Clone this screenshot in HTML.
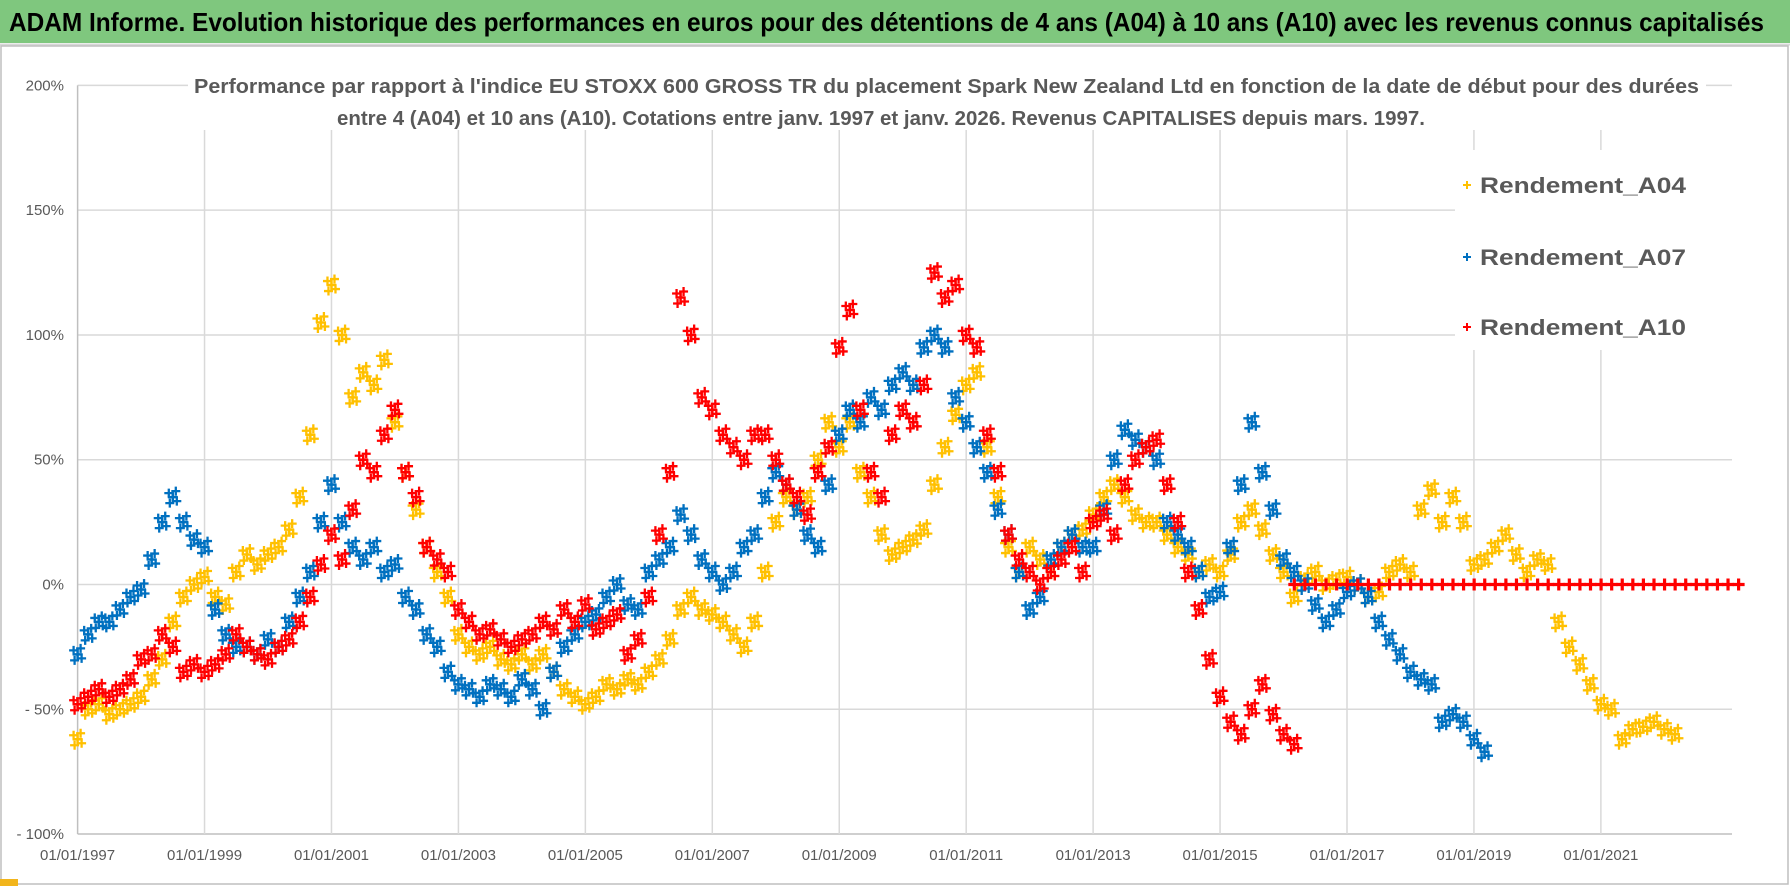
<!DOCTYPE html>
<html><head><meta charset="utf-8"><style>
html,body{margin:0;padding:0;background:#fff;}
svg{display:block;font-family:"Liberation Sans",sans-serif;}
</style></head><body>
<svg id="chart" width="1790" height="886" viewBox="0 0 1790 886">
<rect x="0" y="0" width="1790" height="886" fill="#fff"/>
<rect x="0" y="0" width="1790" height="43" fill="#7fc77e"/>
<line x1="0" y1="44.5" x2="1790" y2="44.5" stroke="#d8d8d8" stroke-width="2"/>
<text x="9" y="31" font-size="26" font-weight="bold" fill="#000" textLength="1755" lengthAdjust="spacingAndGlyphs">ADAM Informe. Evolution historique des performances en euros pour des détentions de 4 ans (A04) à 10 ans (A10) avec les revenus connus capitalisés</text>
<rect x="1" y="46" width="1787" height="838" fill="none" stroke="#bfbfbf" stroke-width="1.5"/>
<rect x="0" y="879" width="18" height="7" fill="#f2b51c"/>
<g id="grid"></g>
<g id="yticks"></g>
<g id="xticks"></g>
<rect x="188" y="70" width="1518" height="60" fill="#fff"/>
<text x="194" y="93" font-size="20" font-weight="bold" fill="#595959" textLength="1505" lengthAdjust="spacingAndGlyphs">Performance par rapport à l'indice EU STOXX 600 GROSS TR  du placement Spark New Zealand Ltd en fonction de la date de début pour des durées</text>
<text x="337" y="125" font-size="20" font-weight="bold" fill="#595959" textLength="1088" lengthAdjust="spacingAndGlyphs">entre 4 (A04) et 10 ans (A10). Cotations entre janv. 1997 et janv. 2026. Revenus CAPITALISES depuis mars. 1997.</text>
<g id="series"></g>
<g id="legend">
<rect x="1455" y="150" width="316" height="200" fill="#fff"/>
</g>
</svg>
<script>
const yTickVals=[200,150,100,50,0,-50,-100];
const yTickLabels=["200%","150%","100%","50%","0%","- 50%","- 100%"];
const xTickYears=[1997,1999,2001,2003,2005,2007,2009,2011,2013,2015,2017,2019,2021];
const xTickLabels=["01/01/1997","01/01/1999","01/01/2001","01/01/2003","01/01/2005","01/01/2007","01/01/2009","01/01/2011","01/01/2013","01/01/2015","01/01/2017","01/01/2019","01/01/2021"];
const seriesNames=["Rendement_A04","Rendement_A07","Rendement_A10"];
const startA04=1997, startA07=1997, startA10=1997, startA10flat=2016.17, stepYears=1/6;
const valuesA04=[-62,-50,-48,-52,-50,-48,-45,-38,-30,-15,-5,0,3,-5,-8,5,12,8,12,15,22,35,60,105,120,100,75,85,80,90,65,45,30,15,5,-5,-20,-25,-28,-25,-30,-32,-28,-32,-28,-35,-42,-45,-48,-45,-40,-42,-38,-40,-35,-30,-22,-10,-5,-10,-12,-15,-20,-25,-15,5,25,35,30,35,50,65,55,65,45,35,20,12,15,18,22,40,55,68,80,85,55,35,15,5,15,10,5,15,20,22,28,35,40,35,28,25,25,20,15,12,5,8,5,12,25,30,22,12,5,-5,2,5,0,2,3,0,-5,-3,5,8,5,30,38,25,35,25,8,10,15,20,12,5,10,8,-15,-25,-32,-40,-48,-50,-62,-58,-57,-55,-58,-60];
const valuesA07=[-28,-20,-15,-15,-10,-5,-2,10,25,35,25,18,15,-10,-20,-25,-25,-28,-22,-25,-15,-5,5,25,40,25,15,10,15,5,8,-5,-10,-20,-25,-35,-40,-42,-45,-40,-42,-45,-38,-42,-50,-35,-25,-20,-15,-12,-5,0,-8,-10,5,10,15,28,20,10,5,0,5,15,20,35,45,40,30,20,15,40,60,70,65,75,70,80,85,80,95,100,95,75,65,55,45,30,20,5,-10,-5,10,15,20,15,15,30,50,62,58,55,50,25,20,15,5,-5,-3,15,40,65,45,30,10,5,0,-8,-15,-10,-3,0,-5,-15,-22,-28,-35,-38,-40,-55,-52,-55,-62,-67];
const valuesA10=[-48,-45,-42,-45,-42,-38,-30,-28,-20,-25,-35,-32,-35,-32,-28,-20,-25,-28,-30,-25,-22,-15,-5,8,20,10,30,50,45,60,70,45,35,15,10,5,-10,-15,-20,-18,-22,-25,-22,-20,-15,-18,-10,-15,-8,-18,-15,-12,-28,-22,-5,20,45,115,100,75,70,60,55,50,60,60,50,40,35,28,45,55,95,110,70,45,35,60,70,65,80,125,115,120,100,95,60,45,20,10,5,0,5,10,15,5,25,28,20,40,50,55,58,40,25,5,-10,-30,-45,-55,-60,-50,-40,-52,-60,-64];
const valuesA10flat=[0,0,0,0,0,0,0,0,0,0,0,0,0,0,0,0,0,0,0,0,0,0,0,0,0,0,0,0,0,0,0,0,0,0,0,0,0,0,0,0,0,0,0];
const NS="http://www.w3.org/2000/svg";
const X0=77.6, XR=1732, PXY=63.47, Y0=584.5, PXV=2.4955;
function xs(t){return X0+(t-1997)*PXY;}
function ys(v){return Y0-v*PXV;}
function mk(tag,attrs,parent){const e=document.createElementNS(NS,tag);for(const k in attrs)e.setAttribute(k,attrs[k]);parent.appendChild(e);return e;}
const grid=document.getElementById('grid');
yTickVals.forEach(v=>{const l=mk('line',{x1:X0,x2:XR,y1:ys(v),y2:ys(v),stroke:v===-100?'#bfbfbf':'#d9d9d9','stroke-width':1.5},grid);

});
xTickYears.forEach(y=>{const l=mk('line',{x1:xs(y),x2:xs(y),y1:ys(200),y2:ys(-100),stroke:y===1997?'#bfbfbf':'#d9d9d9','stroke-width':1.5},grid);

});
const yt=document.getElementById('yticks');
yTickVals.forEach((v,i)=>{const t=mk('text',{x:64,y:ys(v)+5,'text-anchor':'end','font-size':15,fill:'#595959'},yt);t.textContent=yTickLabels[i];

});
const xt=document.getElementById('xticks');
xTickYears.forEach((y,i)=>{const t=mk('text',{x:xs(y),y:860,'text-anchor':'middle','font-size':15,fill:'#595959'},xt);t.textContent=xTickLabels[i];

});
const sl=document.getElementById('series');
function plus(g,x,y,c,s,w){mk('path',{d:`M${x-s},${y}H${x+s}M${x},${y-s}V${y+s}`,stroke:c,'stroke-width':w,fill:'none'},g);}
function cloud(g,x,y,c){
  plus(g,x-4,y-4,c,4.5,2.3);
  plus(g,x+4,y+4,c,4.5,2.3);
  plus(g,x-3,y+6,c,4.5,2.3);
  plus(g,x+3,y-6,c,4.5,2.3);
  plus(g,x,y,c,5,2.5);
}
function drawSeries(vals,start,color,name,dense){const g=mk('g',{},sl);


vals.forEach((v,i)=>{const t=start+i*stepYears;
if(dense)cloud(g,xs(t),ys(v),color);else plus(g,xs(t),ys(v),color,6,3.2);});}
drawSeries(valuesA04,startA04,'#ffc000','series-a04',true);
drawSeries(valuesA07,startA07,'#0070c0','series-a07',true);
drawSeries(valuesA10,startA10,'#ff0000','series-a10',true);
drawSeries(valuesA10flat,startA10flat,'#ff0000','series-a10-flat',false);
const lg=document.getElementById('legend');
const lc=['#ffc000','#0070c0','#ff0000'];const ly=[185,257,327];
seriesNames.forEach((n,i)=>{const g=mk('g',{},lg);


plus(g,1467,ly[i],lc[i],4,2);
const t=mk('text',{x:1480,y:ly[i]+8,'font-size':22,'font-weight':'bold',fill:'#595959',textLength:206,lengthAdjust:'spacingAndGlyphs'},g);t.textContent=n;});
</script>
</body></html>
